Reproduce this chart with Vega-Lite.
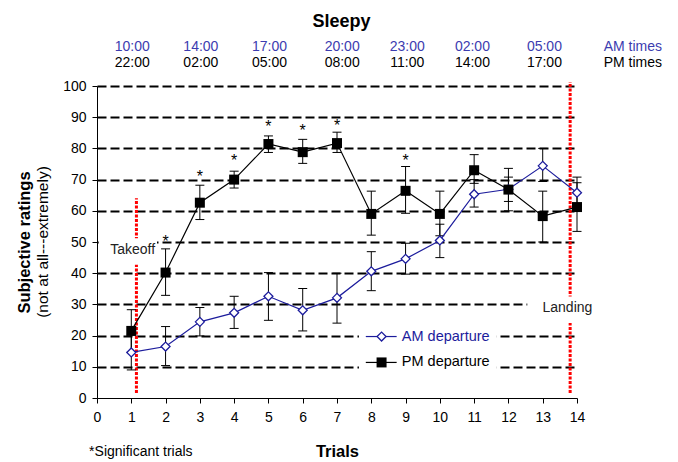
{
  "$schema": "https://vega.github.io/schema/vega-lite/v6.json",
  "width": 480,
  "height": 312,
  "autosize": {"type": "none"},
  "padding": {"left": 97, "top": 86, "right": 101, "bottom": 64},
  "background": "white",
  "config": {
    "font": "Liberation Sans",
    "view": {"stroke": null},
    "axis": {"labelFont": "Liberation Sans", "titleFont": "Liberation Sans", "labelColor": "black", "titleColor": "black", "domainColor": "black", "tickColor": "black"}
  },
  "resolve": {"axis": {"x": "independent", "y": "independent"}},
  "datasets": {
    "ratings": [
      {"series": "AM", "trial": 1, "value": 14.6, "lo": 9.0, "hi": 20.2},
      {"series": "AM", "trial": 2, "value": 16.5, "lo": 10.4, "hi": 22.9},
      {"series": "AM", "trial": 3, "value": 24.4, "lo": 19.9, "hi": 29.0},
      {"series": "AM", "trial": 4, "value": 27.3, "lo": 22.3, "hi": 32.6},
      {"series": "AM", "trial": 5, "value": 32.6, "lo": 24.9, "hi": 40.2},
      {"series": "AM", "trial": 6, "value": 28.1, "lo": 21.5, "hi": 35.1},
      {"series": "AM", "trial": 7, "value": 32.1, "lo": 24.0, "hi": 40.0},
      {"series": "AM", "trial": 8, "value": 40.6, "lo": 34.4, "hi": 46.9},
      {"series": "AM", "trial": 9, "value": 44.6, "lo": 39.7, "hi": 49.6},
      {"series": "AM", "trial": 10, "value": 50.5, "lo": 45.0, "hi": 55.7},
      {"series": "AM", "trial": 11, "value": 65.3, "lo": 61.2, "hi": 70.0},
      {"series": "AM", "trial": 12, "value": 66.9, "lo": 63.0, "hi": 70.8},
      {"series": "AM", "trial": 13, "value": 74.4, "lo": 69.4, "hi": 80.0},
      {"series": "AM", "trial": 14, "value": 65.8, "lo": 60.8, "hi": 70.8},
      {"series": "PM", "trial": 1, "value": 21.5, "lo": 14.7, "hi": 28.3},
      {"series": "PM", "trial": 2, "value": 40.2, "lo": 32.9, "hi": 47.8},
      {"series": "PM", "trial": 3, "value": 62.6, "lo": 57.2, "hi": 68.2},
      {"series": "PM", "trial": 4, "value": 70.0, "lo": 67.3, "hi": 72.7},
      {"series": "PM", "trial": 5, "value": 81.4, "lo": 78.7, "hi": 84.0},
      {"series": "PM", "trial": 6, "value": 78.8, "lo": 75.2, "hi": 82.9},
      {"series": "PM", "trial": 7, "value": 81.7, "lo": 78.7, "hi": 85.2},
      {"series": "PM", "trial": 8, "value": 59.0, "lo": 52.2, "hi": 66.3},
      {"series": "PM", "trial": 9, "value": 66.4, "lo": 59.2, "hi": 74.2},
      {"series": "PM", "trial": 10, "value": 59.0, "lo": 52.0, "hi": 66.3},
      {"series": "PM", "trial": 11, "value": 73.0, "lo": 68.8, "hi": 78.0},
      {"series": "PM", "trial": 12, "value": 66.8, "lo": 60.0, "hi": 73.6},
      {"series": "PM", "trial": 13, "value": 58.3, "lo": 50.0, "hi": 66.3},
      {"series": "PM", "trial": 14, "value": 61.2, "lo": 53.4, "hi": 69.0}
    ],
    "stars": [
      {"trial": 2, "mark": 50.9},
      {"trial": 3, "mark": 71.8},
      {"trial": 4, "mark": 76.9},
      {"trial": 5, "mark": 87.7},
      {"trial": 6, "mark": 86.6},
      {"trial": 7, "mark": 88.2},
      {"trial": 9, "mark": 76.8}
    ],
    "events": [
      {"event": "Takeoff", "at": 1.15, "from": 1.6, "to": 64},
      {"event": "Landing", "at": 13.8, "from": 1.6, "to": 101.3}
    ],
    "boxes": [
      {"box": "takeoff", "x1": 0.05, "x2": 1.75, "y1": 42.7, "y2": 51.2},
      {"box": "landing", "x1": 12.55, "x2": 14.6, "y1": 24.0, "y2": 32.5},
      {"box": "legend", "x1": 7.64, "x2": 11.66, "y1": 6.0, "y2": 26.0}
    ],
    "legend": [
      {"series": "AM", "label": "AM departure", "x1": 7.84, "x2": 8.74, "xm": 8.3, "ly": 19.7, "tx": 8.89},
      {"series": "PM", "label": "PM departure", "x1": 7.84, "x2": 8.74, "xm": 8.3, "ly": 11.4, "tx": 8.89}
    ],
    "times": [
      {"pos": 1.03, "am": "10:00", "pm": "22:00"},
      {"pos": 3.03, "am": "14:00", "pm": "02:00"},
      {"pos": 5.03, "am": "17:00", "pm": "05:00"},
      {"pos": 7.15, "am": "20:00", "pm": "08:00"},
      {"pos": 9.05, "am": "23:00", "pm": "11:00"},
      {"pos": 10.95, "am": "02:00", "pm": "14:00"},
      {"pos": 13.05, "am": "05:00", "pm": "17:00"},
      {"pos": 15.63, "am": "AM times", "pm": "PM times"}
    ]
  },
  "layer": [
    {
      "data": {"name": "boxes"},
      "transform": [{"filter": "datum.box === 'legend'"}],
      "mark": {"type": "rect", "fill": "white", "stroke": null},
      "encoding": {
        "x": {
          "field": "x1", "type": "quantitative", "scale": {"domain": [0, 14]},
          "axis": {
            "title": "Trials", "titleFontSize": 16.5, "titleFontWeight": "bold", "titlePadding": 19,
            "values": [0, 1, 2, 3, 4, 5, 6, 7, 8, 9, 10, 11, 12, 13, 14],
            "labelFontSize": 14, "labelPadding": 7, "tickSize": 5, "grid": false,
            "domainWidth": 1, "labelFlush": false, "labelOverlap": false
          }
        },
        "x2": {"field": "x2"},
        "y": {
          "field": "y1", "type": "quantitative", "scale": {"domain": [0, 100]},
          "axis": {
            "title": "Subjective ratings", "titleFontSize": 16.5, "titleFontWeight": "bold", "titlePadding": 30,
            "values": [0, 10, 20, 30, 40, 50, 60, 70, 80, 90, 100],
            "labelFontSize": 14, "labelPadding": 6, "tickSize": 5,
            "grid": true, "gridColor": "black", "gridWidth": 2, "gridDash": [9, 4],
            "gridOpacity": {"condition": {"test": "datum.value === 0", "value": 0}, "value": 1},
            "domainWidth": 1, "labelFlush": false, "labelOverlap": false
          }
        },
        "y2": {"field": "y2"}
      }
    },
    {
      "data": {"name": "events"},
      "mark": {"type": "rule", "color": "#ff0000", "strokeWidth": 3, "strokeDash": [3, 1.5]},
      "encoding": {
        "x": {"field": "at", "type": "quantitative", "axis": null},
        "y": {"field": "from", "type": "quantitative", "axis": null},
        "y2": {"field": "to"}
      }
    },
    {
      "data": {"name": "boxes"},
      "transform": [{"filter": "datum.box !== 'legend'"}],
      "mark": {"type": "rect", "fill": "white", "stroke": null},
      "encoding": {
        "x": {"field": "x1", "type": "quantitative", "axis": null},
        "x2": {"field": "x2"},
        "y": {"field": "y1", "type": "quantitative", "axis": null},
        "y2": {"field": "y2"}
      }
    },
    {
      "data": {"name": "ratings"},
      "mark": {"type": "rule", "color": "black", "strokeWidth": 1},
      "encoding": {
        "x": {"field": "trial", "type": "quantitative", "axis": null},
        "y": {"field": "lo", "type": "quantitative", "axis": null},
        "y2": {"field": "hi"}
      }
    },
    {
      "data": {"name": "ratings"},
      "mark": {"type": "tick", "orient": "horizontal", "color": "black", "size": 9, "thickness": 1, "opacity": 1},
      "encoding": {
        "x": {"field": "trial", "type": "quantitative", "axis": null},
        "y": {"field": "lo", "type": "quantitative", "axis": null}
      }
    },
    {
      "data": {"name": "ratings"},
      "mark": {"type": "tick", "orient": "horizontal", "color": "black", "size": 9, "thickness": 1, "opacity": 1},
      "encoding": {
        "x": {"field": "trial", "type": "quantitative", "axis": null},
        "y": {"field": "hi", "type": "quantitative", "axis": null}
      }
    },
    {
      "data": {"name": "ratings"},
      "mark": {"type": "line", "strokeWidth": 1.2},
      "encoding": {
        "x": {"field": "trial", "type": "quantitative", "axis": null},
        "y": {"field": "value", "type": "quantitative", "axis": null},
        "color": {"field": "series", "type": "nominal", "scale": {"domain": ["AM", "PM"], "range": ["#1c1c9c", "black"]}, "legend": null}
      }
    },
    {
      "data": {"name": "ratings"},
      "transform": [{"filter": "datum.series === 'AM'"}],
      "mark": {"type": "point", "shape": "diamond", "size": 80, "filled": true, "fill": "white", "stroke": "#1c1c9c", "strokeWidth": 1.3, "opacity": 1},
      "encoding": {
        "x": {"field": "trial", "type": "quantitative", "axis": null},
        "y": {"field": "value", "type": "quantitative", "axis": null}
      }
    },
    {
      "data": {"name": "ratings"},
      "transform": [{"filter": "datum.series === 'PM'"}],
      "mark": {"type": "point", "shape": "square", "size": 100, "filled": true, "fill": "black", "stroke": null, "opacity": 1},
      "encoding": {
        "x": {"field": "trial", "type": "quantitative", "axis": null},
        "y": {"field": "value", "type": "quantitative", "axis": null}
      }
    },
    {
      "data": {"name": "stars"},
      "mark": {"type": "text", "text": "*", "fontSize": 16, "baseline": "alphabetic", "dy": 8, "color": "black"},
      "encoding": {
        "x": {"field": "trial", "type": "quantitative", "axis": null},
        "y": {"field": "mark", "type": "quantitative", "axis": null}
      }
    },
    {
      "data": {"name": "legend"},
      "mark": {"type": "rule", "strokeWidth": 1.2},
      "encoding": {
        "x": {"field": "x1", "type": "quantitative", "axis": null},
        "x2": {"field": "x2"},
        "y": {"field": "ly", "type": "quantitative", "axis": null},
        "color": {"field": "series", "type": "nominal", "legend": null}
      }
    },
    {
      "data": {"name": "legend"},
      "transform": [{"filter": "datum.series === 'AM'"}],
      "mark": {"type": "point", "shape": "diamond", "size": 80, "filled": true, "fill": "white", "stroke": "#1c1c9c", "strokeWidth": 1.3, "opacity": 1},
      "encoding": {
        "x": {"field": "xm", "type": "quantitative", "axis": null},
        "y": {"field": "ly", "type": "quantitative", "axis": null}
      }
    },
    {
      "data": {"name": "legend"},
      "transform": [{"filter": "datum.series === 'PM'"}],
      "mark": {"type": "point", "shape": "square", "size": 100, "filled": true, "fill": "black", "stroke": null, "opacity": 1},
      "encoding": {
        "x": {"field": "xm", "type": "quantitative", "axis": null},
        "y": {"field": "ly", "type": "quantitative", "axis": null}
      }
    },
    {
      "data": {"name": "legend"},
      "mark": {"type": "text", "align": "left", "baseline": "middle", "fontSize": 14.5},
      "encoding": {
        "x": {"field": "tx", "type": "quantitative", "axis": null},
        "y": {"field": "ly", "type": "quantitative", "axis": null},
        "text": {"field": "label"},
        "color": {"field": "series", "type": "nominal", "scale": {"domain": ["AM", "PM"], "range": ["#3c3cb0", "black"]}, "legend": null}
      }
    },
    {
      "data": {"name": "times"},
      "mark": {"type": "text", "align": "center", "baseline": "middle", "fontSize": 14, "color": "#3c3cb0"},
      "encoding": {
        "x": {"field": "pos", "type": "quantitative", "axis": null},
        "y": {"datum": 112.5, "type": "quantitative", "axis": null},
        "text": {"field": "am"}
      }
    },
    {
      "data": {"name": "times"},
      "mark": {"type": "text", "align": "center", "baseline": "middle", "fontSize": 14, "color": "black"},
      "encoding": {
        "x": {"field": "pos", "type": "quantitative", "axis": null},
        "y": {"datum": 107.4, "type": "quantitative", "axis": null},
        "text": {"field": "pm"}
      }
    },
    {
      "data": {"values": [{}]},
      "mark": {"type": "text", "text": "Takeoff", "align": "center", "baseline": "middle", "fontSize": 14, "color": "#222222"},
      "encoding": {
        "x": {"datum": 1.04, "type": "quantitative", "axis": null},
        "y": {"datum": 47.4, "type": "quantitative", "axis": null}
      }
    },
    {
      "data": {"values": [{}]},
      "mark": {"type": "text", "text": "Landing", "align": "center", "baseline": "middle", "fontSize": 14, "color": "#222222"},
      "encoding": {
        "x": {"datum": 13.72, "type": "quantitative", "axis": null},
        "y": {"datum": 29, "type": "quantitative", "axis": null}
      }
    },
    {
      "data": {"values": [{}]},
      "mark": {"type": "text", "text": "Sleepy", "align": "center", "baseline": "middle", "fontSize": 18, "fontWeight": "bold", "color": "black"},
      "encoding": {
        "x": {"datum": 7.13, "type": "quantitative", "axis": null},
        "y": {"datum": 120.5, "type": "quantitative", "axis": null}
      }
    },
    {
      "data": {"values": [{}]},
      "mark": {"type": "text", "text": "(not at all---extremely)", "align": "center", "baseline": "middle", "fontSize": 15.5, "angle": 270, "color": "black"},
      "encoding": {
        "x": {"datum": -1.575, "type": "quantitative", "axis": null},
        "y": {"datum": 50, "type": "quantitative", "axis": null}
      }
    },
    {
      "data": {"values": [{}]},
      "mark": {"type": "text", "text": "*Significant trials", "align": "left", "baseline": "middle", "fontSize": 14, "color": "black"},
      "encoding": {
        "x": {"datum": -0.23, "type": "quantitative", "axis": null},
        "y": {"datum": -17.3, "type": "quantitative", "axis": null}
      }
    }
  ]
}
